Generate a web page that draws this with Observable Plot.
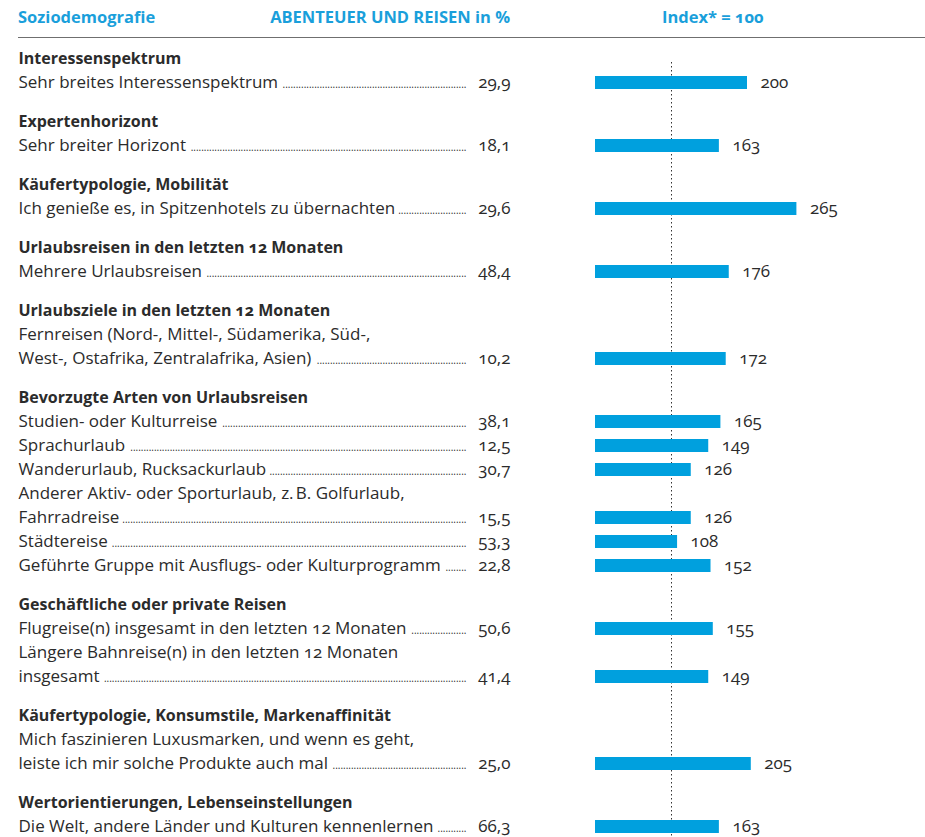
<!DOCTYPE html>
<html><head><meta charset="utf-8">
<script src="https://cdn.jsdelivr.net/npm/d3@7"></script>
<script src="https://cdn.jsdelivr.net/npm/@observablehq/plot@0.6"></script>
<style>
body{margin:0;background:#fff;font-family:"Open Sans",sans-serif;}
#wrap{width:925px;position:relative}
#head{position:relative;height:36.5px;border-bottom:1.5px solid #6f6f6f;margin-left:18px;}
#head span{position:absolute;top:5.5px;font-weight:700;font-size:16.5px;line-height:1.36;color:#1a9fdb;white-space:nowrap;font-variant-numeric:oldstyle-nums}
svg text{font-variant-numeric:oldstyle-nums}
</style></head>
<body>
<div id="wrap">
  <div id="head">
    <span style="left:0">Soziodemografie</span>
    <span style="right:415px">ABENTEUER UND REISEN in %</span>
    <span style="left:644px">Index* = 100</span>
  </div>
  <div id="chart"></div>
</div>
<script>
const groups = [
  "Interessenspektrum",
  "Expertenhorizont",
  "Käufertypologie, Mobilität",
  "Urlaubsreisen in den letzten 12 Monaten",
  "Urlaubsziele in den letzten 12 Monaten",
  "Bevorzugte Arten von Urlaubsreisen",
  "Geschäftliche oder private Reisen",
  "Käufertypologie, Konsumstile, Markenaffinität",
  "Wertorientierungen, Lebenseinstellungen"
];
const items = [
  "Sehr breites Interessenspektrum",
  "Sehr breiter Horizont",
  "Ich genieße es, in Spitzenhotels zu übernachten",
  "Mehrere Urlaubsreisen",
  "Fernreisen (Nord-, Mittel-, Südamerika, Süd-,\nWest-, Ostafrika, Zentralafrika, Asien)",
  "Studien- oder Kulturreise",
  "Sprachurlaub",
  "Wanderurlaub, Rucksackurlaub",
  "Anderer Aktiv- oder Sporturlaub, z.\u202FB. Golfurlaub,\nFahrradreise",
  "Städtereise",
  "Geführte Gruppe mit Ausflugs- oder Kulturprogramm",
  "Flugreise(n) insgesamt in den letzten 12 Monaten",
  "Längere Bahnreise(n) in den letzten 12 Monaten\ninsgesamt",
  "Mich faszinieren Luxusmarken, und wenn es geht,\nleiste ich mir solche Produkte auch mal",
  "Die Welt, andere Länder und Kulturen kennenlernen"
];
const itemGroup = [0, 1, 2, 3, 4, 5, 5, 5, 5, 5, 5, 6, 6, 7, 8];
const shares = [29.9, 18.1, 29.6, 48.4, 10.2, 38.1, 12.5, 30.7, 15.5, 53.3, 22.8, 50.6, 41.4, 25.0, 66.3];
const indexValues = [200, 163, 265, 176, 172, 165, 149, 126, 126, 108, 152, 155, 149, 205, 163];

const FONT = "Open Sans";
const FS = 17;      // regular text
const FSB = 16;     // bold group headers
const TEXT = "#2b2b2b";
const BLUE = "#00a0de";
const GROUP_GAP = 1.625;

// layout in line units
const rows = [], barRows = [];
let pos = 0;
groups.forEach((g, gi) => {
  if (gi > 0) pos += GROUP_GAP;
  rows.push({pos, text: g, bold: true});
  items.forEach((it, i) => {
    if (itemGroup[i] !== gi) return;
    const lines = it.split("\n");
    lines.forEach(ln => { pos += 1; rows.push({pos, text: ln, bold: false}); });
    barRows.push({pos, label: lines[lines.length - 1], share: shares[i], index: indexValues[i]});
  });
});

// dot leaders
const ctx = document.createElement("canvas").getContext("2d");
const leftX = 18, leaderEnd = 466;
ctx.font = `10px "${FONT}"`;
const dotW = ctx.measureText(".").width;
ctx.font = `${FS}px "${FONT}"`;
barRows.forEach(d => {
  const w = ctx.measureText(d.label).width;
  const n = Math.max(0, Math.floor((leaderEnd - (leftX + w + 3)) / dotW));
  d.dots = ".".repeat(n);
});

const fmt = v => d3.format(".1f")(v).replace(".", ",");

const plot = Plot.plot({
  width: 925,
  height: 799,
  marginTop: 24,
  marginBottom: 0,
  marginLeft: 18,
  marginRight: 0,
  style: {fontFamily: FONT, background: "#fff"},
  x: {domain: [0, 100], range: [595, 671], axis: null},
  y: {domain: [0, 32], range: [20, 788], axis: null},
  marks: [
    Plot.ruleX([100], {stroke: "#333", strokeDasharray: "1.5,2.5", strokeWidth: 1}),
    Plot.ruleY(barRows, {y: "pos", x1: () => 0, x2: "index", stroke: BLUE, strokeWidth: 13}),
    Plot.text(barRows, {x: "index", y: "pos", text: d => String(d.index), dx: 13, textAnchor: "start", fontSize: FS, fill: TEXT}),
    Plot.text(rows.filter(d => d.bold), {y: "pos", text: "text", frameAnchor: "left", textAnchor: "start", fontSize: FSB, fontWeight: 700, fill: TEXT}),
    Plot.text(rows.filter(d => !d.bold), {y: "pos", text: "text", frameAnchor: "left", textAnchor: "start", fontSize: FS, fill: TEXT}),
    Plot.text(barRows, {y: "pos", text: "dots", frameAnchor: "left", dx: leaderEnd - leftX, dy: 2.2, textAnchor: "end", fontSize: 10, fill: TEXT}),
    Plot.text(barRows, {y: "pos", text: d => fmt(d.share), frameAnchor: "left", dx: 510 - leftX, textAnchor: "end", fontSize: FS, fill: TEXT})
  ]
});
document.getElementById("chart").appendChild(plot);
</script>
</body></html>
